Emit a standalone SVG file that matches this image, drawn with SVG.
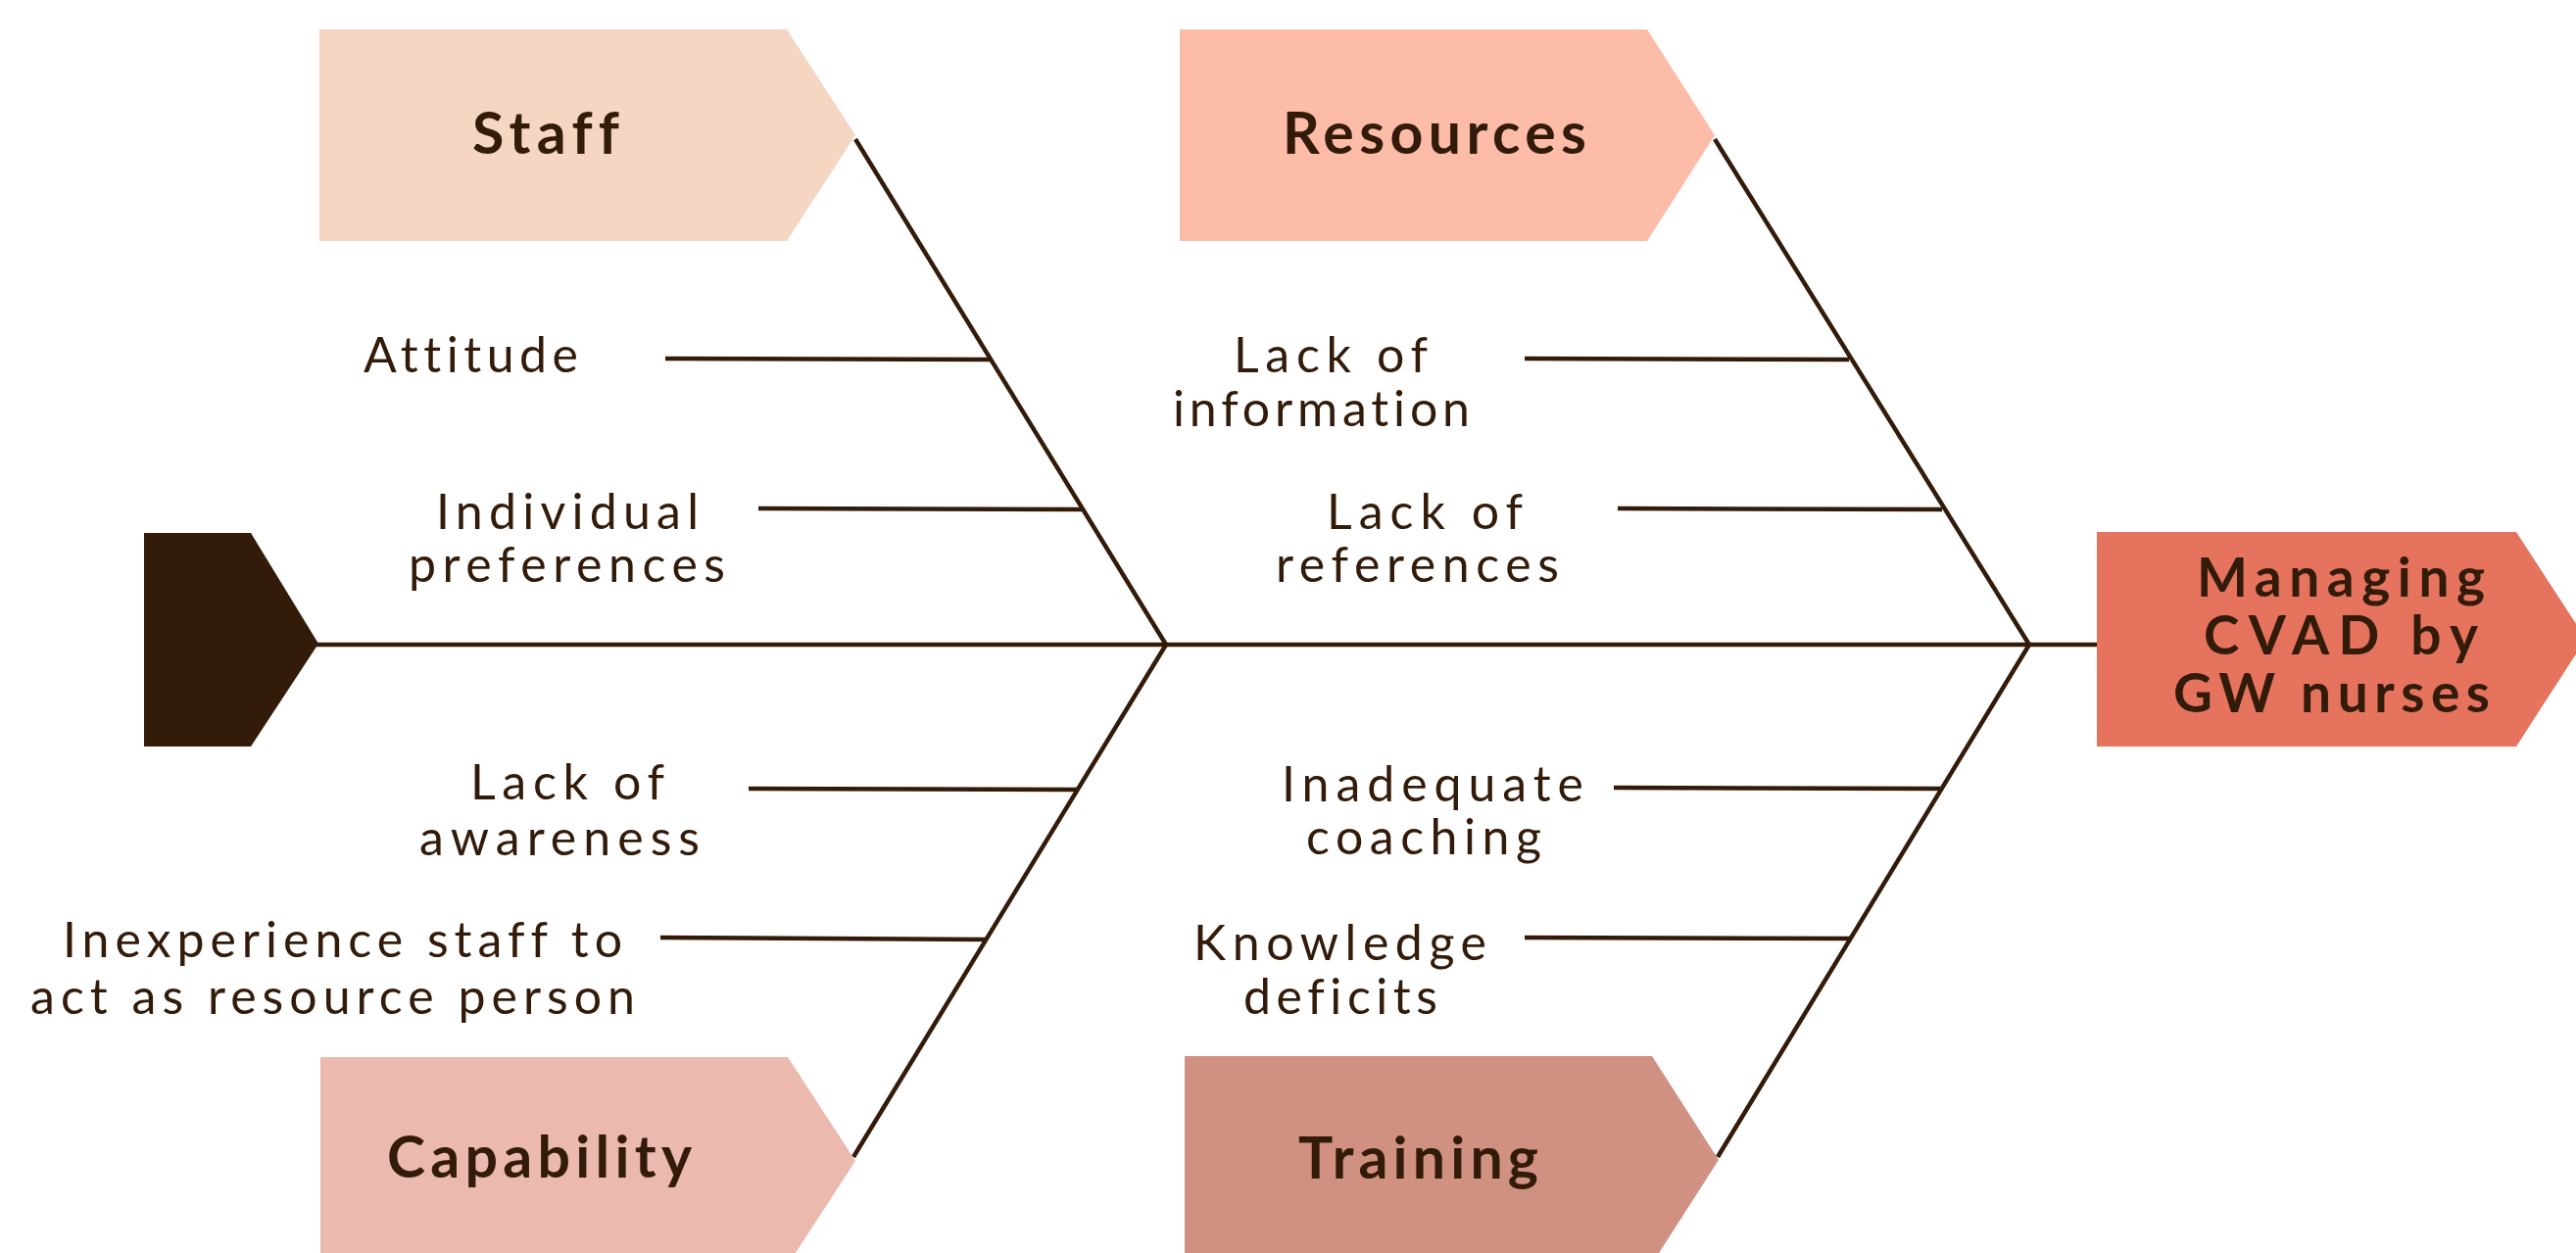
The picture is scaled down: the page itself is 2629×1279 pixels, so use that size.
<svg xmlns="http://www.w3.org/2000/svg" width="2629" height="1279" viewBox="0 0 2629 1279">
  <style>
    .bone { stroke: #331B0A; stroke-width: 4.5; fill: none; stroke-linecap: butt; }
    text { font-family: Lato, "Liberation Sans", sans-serif; fill: #331B0A; font-variant-ligatures: none; font-feature-settings: "liga" 0, "clig" 0; }
    .lbl { font-size: 50px; }
    .head { font-size: 59px; font-weight: 700; }
    .goal { font-size: 55px; font-weight: 700; }
  </style>
  <rect width="2629" height="1279" fill="#FFFFFF"/>

  <!-- skeleton: spine, ribs and cause branches -->
  <g id="connectors">
    <line class="bone" x1="320" y1="658" x2="2142" y2="658"/>
    <line class="bone" x1="873" y1="142" x2="1190" y2="658"/>
    <line class="bone" x1="1190" y1="658" x2="871" y2="1181"/>
    <line class="bone" x1="1750" y1="142" x2="2071" y2="658"/>
    <line class="bone" x1="2071" y1="658" x2="1753" y2="1181"/>
    <line class="bone" x1="679" y1="366" x2="1010" y2="367"/>
    <line class="bone" x1="774" y1="519" x2="1105" y2="520"/>
    <line class="bone" x1="1556" y1="366" x2="1887" y2="367"/>
    <line class="bone" x1="1651" y1="519" x2="1982" y2="520"/>
    <line class="bone" x1="764" y1="805" x2="1100" y2="806"/>
    <line class="bone" x1="674" y1="957" x2="1006" y2="959"/>
    <line class="bone" x1="1647" y1="804" x2="1980" y2="805"/>
    <line class="bone" x1="1556" y1="957" x2="1888" y2="958"/>
  </g>

  <g id="tail">
    <polygon points="147,544 256,544 325,657 256,762 147,762" fill="#331B0A"/>
  </g>

  <g id="staff">
    <polygon points="326,30 803,30 873,138 803,246 326,246" fill="#F5D6C3"/>
    <text class="head" x="482" y="157" textLength="150" lengthAdjust="spacing">Staff</text>
  </g>

  <g id="resources">
    <polygon points="1204,30 1681,30 1750,138 1681,246 1204,246" fill="#FCBCA8"/>
    <text class="head" x="1309" y="157" textLength="310" lengthAdjust="spacing">Resources</text>
  </g>

  <g id="capability">
    <polygon points="327,1079 804,1079 873,1185 804,1291 327,1291" fill="#EBB9AE"/>
    <text class="head" x="395" y="1202" textLength="311" lengthAdjust="spacing">Capability</text>
  </g>

  <g id="training">
    <polygon points="1209,1078 1686,1078 1754,1184 1686,1290 1209,1290" fill="#D09182"/>
    <text class="head" x="1325" y="1203" textLength="245" lengthAdjust="spacing">Training</text>
  </g>

  <g id="goal">
    <polygon points="2140,543 2568,543 2639,652 2568,762 2140,762" fill="#E5735E"/>
    <text class="goal" x="2242" y="609" textLength="294" lengthAdjust="spacing">Managing</text>
    <text class="goal" x="2249" y="668" textLength="280" lengthAdjust="spacing">CVAD by</text>
    <text class="goal" x="2218" y="727" textLength="323" lengthAdjust="spacing">GW nurses</text>
  </g>

  <g id="cause-attitude">
    <text class="lbl" x="371" y="380" textLength="219" lengthAdjust="spacing">Attitude</text>
  </g>
  <g id="cause-preferences">
    <text class="lbl" x="445" y="540" textLength="268" lengthAdjust="spacing">Individual</text>
    <text class="lbl" x="417" y="594" textLength="323" lengthAdjust="spacing">preferences</text>
  </g>
  <g id="cause-information">
    <text class="lbl" x="1259" y="380" textLength="198" lengthAdjust="spacing">Lack of</text>
    <text class="lbl" x="1197" y="435" textLength="303" lengthAdjust="spacing">information</text>
  </g>
  <g id="cause-references">
    <text class="lbl" x="1354" y="540" textLength="200" lengthAdjust="spacing">Lack of</text>
    <text class="lbl" x="1302" y="594" textLength="289" lengthAdjust="spacing">references</text>
  </g>
  <g id="cause-awareness">
    <text class="lbl" x="480" y="816" textLength="198" lengthAdjust="spacing">Lack of</text>
    <text class="lbl" x="428" y="873" textLength="286" lengthAdjust="spacing">awareness</text>
  </g>
  <g id="cause-inexperience">
    <text class="lbl" x="64" y="977" textLength="571" lengthAdjust="spacing">Inexperience staff to</text>
    <text class="lbl" x="31" y="1035" textLength="617" lengthAdjust="spacing">act as resource person</text>
  </g>
  <g id="cause-coaching">
    <text class="lbl" x="1308" y="818" textLength="308" lengthAdjust="spacing">Inadequate</text>
    <text class="lbl" x="1333" y="872" textLength="240" lengthAdjust="spacing">coaching</text>
  </g>
  <g id="cause-knowledge">
    <text class="lbl" x="1218" y="980" textLength="299" lengthAdjust="spacing">Knowledge</text>
    <text class="lbl" x="1269" y="1035" textLength="198" lengthAdjust="spacing">deficits</text>
  </g>
</svg>
